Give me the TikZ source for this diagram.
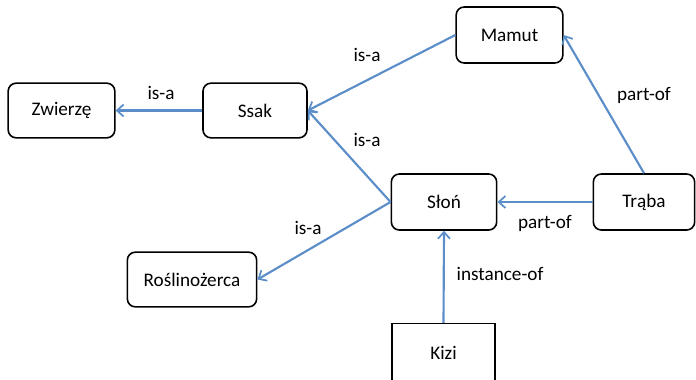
\documentclass[tikz,border=0pt]{standalone}
\usepackage{fontspec}
\setmainfont{Carlito}
\usepackage{xcolor}
\usepackage{tikz}
\usetikzlibrary{arrows.meta}
\definecolor{relblue}{HTML}{5B8EC8}

\tikzset{
  concept/.style={draw=black, line width=1.2pt, rounded corners=6pt,
    minimum height=41pt, inner sep=0pt, font=\fontsize{14.4}{17}\selectfont},
  instance/.style={concept, rounded corners=0pt},
  rel/.style={-{Straight Barb[length=5pt, width=9pt, line width=1.3pt]},
    draw=relblue, line width=1.6pt},
  lbl/.style={inner sep=0pt, font=\fontsize{14.4}{17}\selectfont}
}

\begin{document}
\begin{tikzpicture}[x=0.75pt, y=-0.75pt]

\useasboundingbox (0,0) rectangle (696,379);

% Concepts
\node[concept, minimum width=80pt] (Zwierze) at (61.5,110.5) {Zwierzę};
\node[concept, minimum width=78pt] (Ssak) at (255,110.5) {Ssak};
\node[concept, minimum width=80pt, minimum height=42pt] (Mamut) at (509.5,35) {Mamut};
\node[concept, minimum width=79pt, minimum height=42pt] (Slon) at (444,202) {Słoń};
\node[concept, minimum width=76pt, minimum height=42pt] (Traba) at (644,202) {Trąba};
\node[concept, minimum width=97pt] (Roslinozerca) at (192,279.5) {Roślinożerca};

% Instance
\node[instance, minimum width=77pt, minimum height=44pt] (Kizi) at (443.5,353) {Kizi};

% Relations
\foreach \from/\to in {Ssak.west/Zwierze.east,
                       Mamut.west/Ssak.east,
                       Slon.west/Ssak.east,
                       Slon.west/Roslinozerca.east,
                       Traba.west/Slon.east,
                       Traba.north/Mamut.east,
                       Kizi.north/Slon.south}
{
  \draw[rel] (\from) -- (\to);
}

% Relation labels
\node[lbl] (isa-1) at (161,93) {is-a};
\node[lbl] (isa-2) at (367,55) {is-a};
\node[lbl] (isa-3) at (367,140) {is-a};
\node[lbl] (isa-4) at (308,228) {is-a};
\node[lbl] (partof-1) at (545,223) {part-of};
\node[lbl] (partof-2) at (644,95) {part-of};
\node[lbl] (instof) at (500,274) {instance-of};

\end{tikzpicture}
\end{document}
